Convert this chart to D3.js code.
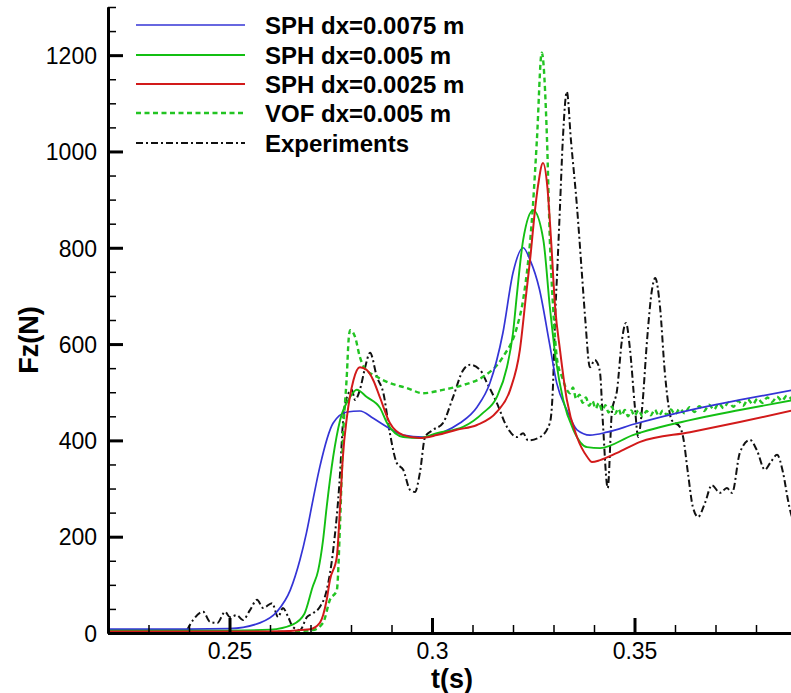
<!DOCTYPE html>
<html>
<head>
<meta charset="utf-8">
<script src="https://cdn.jsdelivr.net/npm/d3@7"></script>
<style>
  html, body { margin: 0; padding: 0; background: #fff; }
  svg { display: block; font-family: "Liberation Sans", Arial, sans-serif; }
</style>
</head>
<body>
<svg id="chart" width="791" height="693"></svg>
<script>
// Vertical force on the structure, Fz (N), versus time t (s): [t, Fz] pairs
const sph0075 = [
  [0.22, 8], [0.24, 8], [0.25, 9], [0.2575, 21], [0.2617, 44], [0.265, 89],
  [0.2674, 152], [0.269, 208], [0.2706, 276], [0.2723, 345], [0.2756, 436],
  [0.279, 459], [0.2822, 461], [0.2855, 446], [0.2889, 428], [0.2929, 411],
  [0.2978, 407], [0.3027, 417], [0.3069, 436], [0.3111, 469], [0.3143, 519],
  [0.3175, 623], [0.32, 748], [0.3225, 800], [0.3242, 775], [0.3265, 715],
  [0.329, 602], [0.3308, 519], [0.3333, 463], [0.3358, 422], [0.339, 411],
  [0.3432, 417], [0.35, 434], [0.3637, 463], [0.376, 484], [0.39, 506]
];
const sph005 = [
  [0.22, 5], [0.25, 5], [0.26, 7], [0.2657, 18], [0.2685, 40], [0.2705, 95],
  [0.2719, 130], [0.2731, 193], [0.274, 262], [0.2756, 366], [0.2773, 442],
  [0.2798, 490], [0.2814, 505], [0.2839, 490], [0.2872, 467], [0.2889, 436],
  [0.2929, 407], [0.297, 405], [0.3012, 415], [0.3077, 428], [0.3126, 457],
  [0.316, 490], [0.3185, 552], [0.32, 623], [0.321, 706], [0.3225, 816],
  [0.325, 878], [0.3275, 816], [0.3291, 677], [0.3306, 567], [0.3324, 484],
  [0.3349, 422], [0.3383, 386], [0.3415, 384], [0.3496, 411], [0.3637, 442],
  [0.376, 463], [0.39, 485]
];
const sph0025 = [
  [0.22, 3], [0.26, 3], [0.2699, 8], [0.2723, 21], [0.274, 69], [0.2748, 110],
  [0.2765, 158], [0.2773, 262], [0.278, 366], [0.279, 449], [0.2806, 525],
  [0.2822, 552], [0.2839, 546], [0.2855, 525], [0.2872, 488], [0.2896, 436],
  [0.2929, 411], [0.297, 405], [0.3012, 411], [0.3061, 422], [0.3111, 432],
  [0.316, 459], [0.3193, 505], [0.3217, 588], [0.3232, 700], [0.3244, 790],
  [0.3252, 860], [0.3262, 930], [0.3274, 976], [0.3285, 925], [0.3294, 816],
  [0.3304, 677], [0.3316, 588], [0.3333, 484], [0.3358, 407], [0.3383, 366],
  [0.3395, 355], [0.3415, 359], [0.3457, 374], [0.3514, 397], [0.3637, 417],
  [0.376, 438], [0.39, 464]
];
const vof005 = [
  [0.22, 2], [0.26, 2], [0.2705, 6], [0.2731, 21], [0.2748, 69], [0.2765, 89],
  [0.2773, 228], [0.278, 401], [0.279, 540], [0.2794, 608], [0.2798, 629],
  [0.281, 615], [0.2822, 573], [0.2832, 552], [0.2864, 532], [0.2896, 519],
  [0.2937, 509], [0.2978, 498], [0.3027, 505], [0.3077, 515], [0.3126, 532],
  [0.3175, 573], [0.321, 636], [0.3225, 692], [0.3249, 885], [0.3259, 1024],
  [0.3271, 1205], [0.3284, 1024], [0.3291, 816], [0.3299, 677], [0.3309, 567],
  [0.3321, 532], [0.3333, 505], [0.3341, 498], [0.3348, 510], [0.3356, 486],
  [0.3364, 495], [0.3372, 478], [0.338, 489], [0.3388, 472], [0.3396, 482],
  [0.3404, 466], [0.3412, 478], [0.342, 462], [0.3428, 473], [0.3436, 458],
  [0.3444, 470], [0.3452, 455], [0.346, 466], [0.3468, 452], [0.3476, 463],
  [0.3484, 450], [0.3492, 462], [0.35, 451], [0.351, 463], [0.352, 450],
  [0.353, 461], [0.354, 452], [0.355, 464], [0.356, 451], [0.357, 462],
  [0.358, 453], [0.359, 464], [0.36, 454], [0.3612, 466], [0.3624, 456],
  [0.3636, 469], [0.3648, 459], [0.366, 471], [0.3672, 461], [0.3684, 474],
  [0.3696, 464], [0.3708, 477], [0.372, 467], [0.3732, 479], [0.3744, 470],
  [0.3756, 482], [0.3768, 472], [0.378, 485], [0.3792, 475], [0.3804, 487],
  [0.3816, 478], [0.3828, 489], [0.384, 480], [0.3852, 491], [0.3864, 482],
  [0.3876, 493], [0.3888, 485]
];
const experiments = [
  [0.2395, 6], [0.241, 27], [0.2435, 44], [0.2452, 23], [0.247, 21], [0.2489, 44],
  [0.2501, 33], [0.2518, 37], [0.2533, 27], [0.2551, 48], [0.2568, 69], [0.2583, 52],
  [0.2605, 62], [0.262, 33], [0.2632, 52], [0.2645, 33], [0.2657, 12], [0.2674, 6],
  [0.2691, 33], [0.2706, 41], [0.2723, 54], [0.274, 89], [0.2756, 172], [0.2773, 332],
  [0.278, 436], [0.279, 490], [0.2802, 505], [0.281, 484], [0.2822, 505], [0.2835, 552],
  [0.2847, 582], [0.2864, 532], [0.288, 498], [0.2896, 415], [0.2913, 353], [0.2929, 339],
  [0.2946, 297], [0.2958, 293], [0.297, 332], [0.2983, 407], [0.3003, 422], [0.3027, 436],
  [0.3052, 490], [0.3077, 546], [0.3094, 557], [0.3119, 546], [0.3136, 519], [0.316, 478],
  [0.3185, 428], [0.321, 407], [0.3225, 415], [0.3237, 400], [0.3267, 407], [0.3291, 436],
  [0.3299, 519], [0.3304, 656], [0.3309, 748], [0.3316, 885], [0.3323, 1024], [0.3333, 1124],
  [0.3343, 1024], [0.3358, 885], [0.337, 748], [0.3378, 656], [0.339, 552], [0.3402, 567],
  [0.3407, 563], [0.3415, 540], [0.3422, 436], [0.3434, 301], [0.3444, 457], [0.3457, 505],
  [0.3469, 608], [0.3479, 644], [0.3489, 588], [0.3501, 469], [0.3509, 407], [0.3519, 469],
  [0.3531, 608], [0.3543, 712], [0.3551, 737], [0.3563, 677], [0.3575, 540], [0.3592, 442],
  [0.3612, 428], [0.362, 407], [0.3632, 332], [0.3644, 262], [0.3657, 241], [0.3674, 270],
  [0.3691, 307], [0.3711, 291], [0.3728, 301], [0.3741, 291], [0.376, 374], [0.3785, 401],
  [0.3802, 380], [0.3822, 339], [0.3835, 353], [0.3852, 370], [0.3867, 332], [0.3879, 276],
  [0.3886, 249], [0.3895, 230]
];

const seriesNames = ["SPH dx=0.0075 m", "SPH dx=0.005 m", "SPH dx=0.0025 m", "VOF dx=0.005 m", "Experiments"];

const xMajorTicks = [0.25, 0.3, 0.35];
const xTickLabels = ["0.25", "0.3", "0.35"];
const xMinorTicks = [0.22, 0.23, 0.24, 0.26, 0.27, 0.28, 0.29, 0.31, 0.32, 0.33, 0.34, 0.36, 0.37, 0.38, 0.39];
const yMajorTicks = [0, 200, 400, 600, 800, 1000, 1200];
const yTickLabels = ["0", "200", "400", "600", "800", "1000", "1200"];
const yMinorTicks = [50, 100, 150, 250, 300, 350, 450, 500, 550, 650, 700, 750, 850, 900, 950, 1050, 1100, 1150, 1250, 1300];

const svg = d3.select("#chart");
const W = 791, H = 693;
svg.append("rect").attr("width", W).attr("height", H).attr("fill", "#fff");

const x = d3.scaleLinear().domain([0.22, 0.39]).range([108, 796.5]);
const y = d3.scaleLinear().domain([0, 1300]).range([633, 7]);

// plot clip
svg.append("defs").append("clipPath").attr("id", "plotclip")
  .append("rect").attr("x", x(0.22)).attr("y", y(1300))
  .attr("width", x(0.39) - x(0.22)).attr("height", y(0) - y(1300));

const styles = [
  { data: sph0075, color: "#3434d6", width: 1.7, dash: null },
  { data: sph005, color: "#13bf13", width: 1.9, dash: null },
  { data: sph0025, color: "#d21a1a", width: 2.0, dash: null },
  { data: vof005, color: "#22c422", width: 2.4, dash: "5,3.5" },
  { data: experiments, color: "#111", width: 2.0, dash: "7,3,2,3" }
];

const line = d3.line()
  .x(d => x(d[0]))
  .y(d => y(d[1]))
  .curve(d3.curveMonotoneX);

const plot = svg.append("g").attr("clip-path", "url(#plotclip)");
// draw experiments first, then VOF, then SPH from coarse to fine
[4, 3, 0, 1, 2].forEach(i => {
  const s = styles[i];
  plot.append("path")
    .datum(s.data)
    .attr("d", line)
    .attr("fill", "none")
    .attr("stroke", s.color)
    .attr("stroke-width", s.width)
    .attr("stroke-linejoin", "round")
    .attr("stroke-dasharray", s.dash);
});

// axes
const tickFont = 23;
const yAxisMajor = d3.axisLeft(y).tickValues(yMajorTicks)
  .tickFormat((d, i) => yTickLabels[i]).tickSizeInner(-15).tickSizeOuter(0).tickPadding(11);
const yAxisMinor = d3.axisLeft(y).tickValues(yMinorTicks)
  .tickFormat("").tickSizeInner(-8).tickSizeOuter(0);
const xAxisMajor = d3.axisBottom(x).tickValues(xMajorTicks)
  .tickFormat((d, i) => xTickLabels[i]).tickSizeInner(-15).tickSizeOuter(0).tickPadding(10);
const xAxisMinor = d3.axisBottom(x).tickValues(xMinorTicks)
  .tickFormat("").tickSizeInner(-8).tickSizeOuter(0);

function styleAxis(g, major) {
  g.select(".domain").attr("stroke", "#000").attr("stroke-width", 3);
  g.selectAll(".tick line").attr("stroke", "#000").attr("stroke-width", major ? 3 : 1.5);
  g.selectAll(".tick text").attr("fill", "#000")
    .style("font-size", tickFont + "px")
    .style("font-family", "'Liberation Sans', Arial, sans-serif");
}

const gym = svg.append("g").attr("transform", `translate(${x(0.22)},0)`).call(yAxisMinor);
styleAxis(gym, false);
const gyM = svg.append("g").attr("transform", `translate(${x(0.22)},0)`).call(yAxisMajor);
styleAxis(gyM, true);
gyM.selectAll(".tick text").attr("dy", "0.36em");

const gxm = svg.append("g").attr("transform", `translate(0,${y(0)})`).call(xAxisMinor);
styleAxis(gxm, false);
const gxM = svg.append("g").attr("transform", `translate(0,${y(0)})`).call(xAxisMajor);
styleAxis(gxM, true);

// axis titles
svg.append("text")
  .attr("x", 452).attr("y", 688)
  .attr("text-anchor", "middle")
  .style("font-size", "27px").style("font-weight", "bold")
  .text("t(s)");
svg.append("text")
  .attr("transform", "translate(38,340) rotate(-90)")
  .attr("text-anchor", "middle")
  .style("font-size", "27px").style("font-weight", "bold")
  .text("Fz(N)");

// legend
const legendY = [25, 55, 84, 113, 143];
const legend = svg.append("g");
styles.forEach((s, i) => {
  legend.append("line")
    .attr("x1", 136).attr("x2", 245)
    .attr("y1", legendY[i]).attr("y2", legendY[i])
    .attr("stroke", s.color)
    .attr("stroke-width", s.width)
    .attr("stroke-dasharray", s.dash);
  legend.append("text")
    .attr("x", 265).attr("y", legendY[i] + 8.5)
    .style("font-size", "24px").style("font-weight", "bold")
    .text(seriesNames[i]);
});
</script>
</body>
</html>
